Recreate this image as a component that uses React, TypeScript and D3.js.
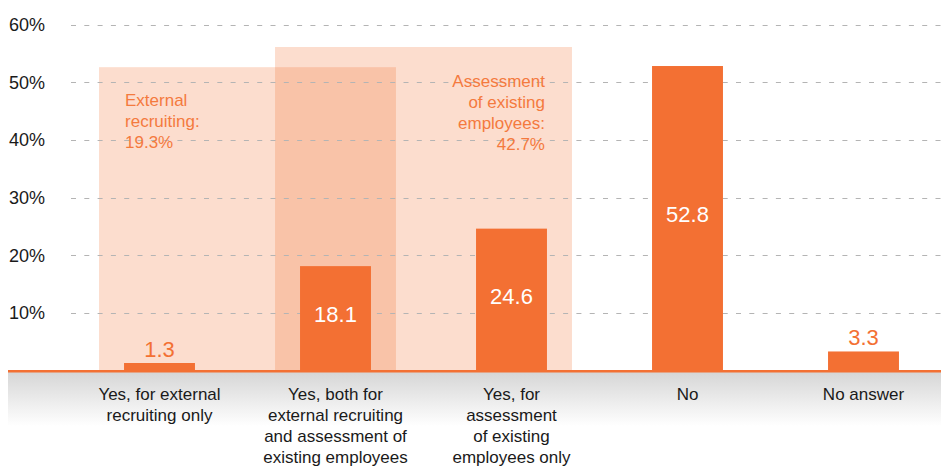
import React, { useRef, useEffect } from "react";
import * as d3 from "d3";

// survey answers
const categories = ["c1", "c2", "c3", "c4", "c5"];
const categoryLabels = [
  ["Yes, for external", "recruiting only"],
  ["Yes, both for", "external recruiting", "and assessment of", "existing employees"],
  ["Yes, for", "assessment", "of existing", "employees only"],
  ["No"],
  ["No answer"],
];
const values = [1.3, 18.1, 24.6, 52.8, 3.3];
const valueInside = [false, true, true, true, false];
const yTicks = [10, 20, 30, 40, 50, 60];

// shaded groups: [first category, last category, top (in %)]
const groupSpans = [
  ["c1", "c2", 52.6],
  ["c2", "c3", 56.1],
];
const groupNotes = [
  ["External", "recruiting:", "19.3%"],
  ["Assessment", "of existing", "employees:", "42.7%"],
];

const W = 941;
const H = 466;
const ORANGE = "#f37033";
const FONT = "'Liberation Sans', Arial, Helvetica, sans-serif";

export default function App() {
  const ref = useRef<SVGSVGElement>(null);

  useEffect(() => {
    const svg = d3.select(ref.current);
    svg.selectAll("*").remove();

    const x = d3.scaleBand().domain(categories).range([71.5, 951.5])
      .paddingInner(0.597).paddingOuter(0.2985);
    const y = d3.scaleLinear().domain([0, 60]).range([370.5, 24.5]);

    const defs = svg.append("defs");
    const grad = defs.append("linearGradient").attr("id", "floor")
      .attr("x1", 0).attr("y1", 0).attr("x2", 0).attr("y2", 1);
    grad.append("stop").attr("offset", "0%").attr("stop-color", "#d6d6d6");
    grad.append("stop").attr("offset", "100%").attr("stop-color", "#ffffff");

    // shaded group boxes
    const pad = 25;
    svg.append("g").selectAll("rect").data(groupSpans).join("rect")
      .attr("x", d => x(d[0] as string)! - pad)
      .attr("width", d => x(d[1] as string)! + x.bandwidth() + pad - (x(d[0] as string)! - pad))
      .attr("y", d => y(d[2] as number))
      .attr("height", d => y(0) - y(d[2] as number))
      .attr("fill", ORANGE)
      .attr("fill-opacity", 0.24);

    // gridlines + y labels
    const grid = svg.append("g");
    grid.selectAll("line").data(yTicks).join("line")
      .attr("x1", 71).attr("x2", W)
      .attr("y1", d => Math.round(y(d)) + 0.5).attr("y2", d => Math.round(y(d)) + 0.5)
      .attr("stroke", "#b4b4b4").attr("stroke-width", 1.2)
      .attr("stroke-dasharray", "5,8.3");
    grid.selectAll("text").data(yTicks).join("text")
      .attr("x", 45).attr("y", d => y(d) + 6.5)
      .attr("text-anchor", "end")
      .attr("font-family", FONT).attr("font-size", 18).attr("fill", "#1a1a1a")
      .text(d => `${d}%`);

    // group notes
    const noteG = svg.append("g").attr("font-family", FONT).attr("font-size", 17).attr("fill", "#f47a3e");
    const n1 = noteG.append("text").attr("x", x("c1")! + 1).attr("y", 106);
    groupNotes[0].forEach((t, i) => n1.append("tspan").attr("x", x("c1")! + 1).attr("y", 106 + i * 21).text(t));
    const n2 = noteG.append("text").attr("text-anchor", "end");
    groupNotes[1].forEach((t, i) =>
      n2.append("tspan").attr("x", x("c3")! + x.bandwidth() - 2).attr("y", 87 + i * 21).text(t));

    // floor
    svg.append("rect").attr("x", 8).attr("y", 372).attr("width", W - 8).attr("height", 54)
      .attr("fill", "url(#floor)");

    // bars
    svg.append("g").selectAll("rect").data(values).join("rect")
      .attr("x", (d, i) => x(categories[i])!)
      .attr("width", x.bandwidth())
      .attr("y", d => y(d))
      .attr("height", d => y(0) - y(d))
      .attr("fill", ORANGE);

    svg.append("line").attr("x1", 8).attr("x2", W)
      .attr("y1", 371.2).attr("y2", 371.2)
      .attr("stroke", ORANGE).attr("stroke-width", 2.5);

    // value labels
    svg.append("g").selectAll("text").data(values).join("text")
      .attr("x", (d, i) => x(categories[i])! + x.bandwidth() / 2)
      .attr("y", (d, i) => valueInside[i] ? (y(d) + y(0)) / 2 + 4 : y(d) - 6)
      .attr("text-anchor", "middle")
      .attr("font-family", FONT).attr("font-size", 22)
      .attr("fill", (d, i) => valueInside[i] ? "#ffffff" : ORANGE)
      .text(d => d.toFixed(1));

    // category labels
    const cl = svg.append("g").attr("font-family", FONT).attr("font-size", 17)
      .attr("fill", "#1a1a1a").attr("text-anchor", "middle");
    categoryLabels.forEach((lines, i) => {
      const t = cl.append("text");
      lines.forEach((s, j) =>
        t.append("tspan").attr("x", x(categories[i])! + x.bandwidth() / 2).attr("y", 400 + j * 21).text(s));
    });
  }, []);

  return (
    <svg ref={ref} width={W} height={H}
      style={{ position: "absolute", left: 0, top: 0, display: "block", background: "#fff" }} />
  );
}
